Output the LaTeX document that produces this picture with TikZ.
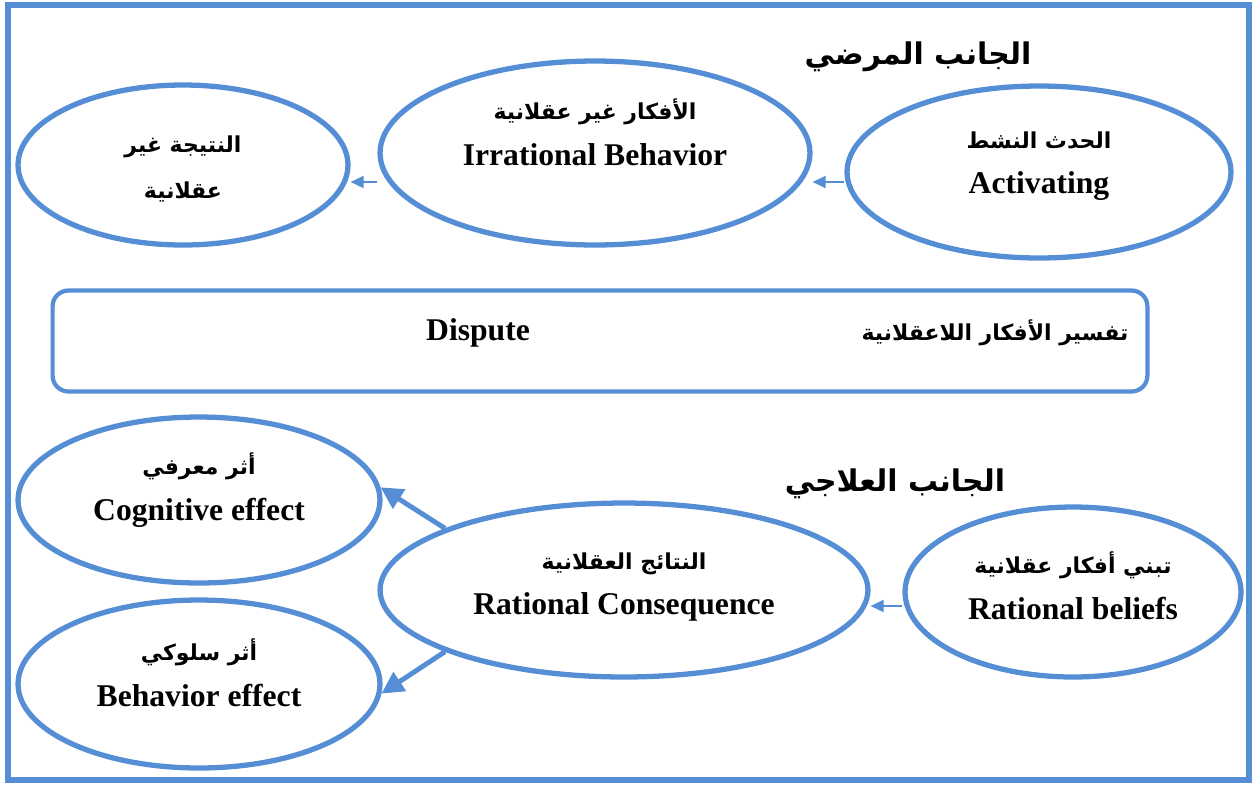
\documentclass[tikz,border=0pt]{standalone}
\usepackage{fontspec}
\setmainfont{Liberation Serif}
\newfontfamily\arabicfont[Script=Arabic]{DejaVu Sans}
\TeXXeTstate=1
\usetikzlibrary{arrows.meta,shapes.geometric,positioning,calc}
\definecolor{frameblue}{RGB}{85,142,213}
\newcommand{\artext}[1]{{\arabicfont\bfseries\fontsize{12.5}{26}\selectfont\beginR #1\endR}}
\newcommand{\arhead}[1]{{\arabicfont\bfseries\fontsize{17}{24}\selectfont\beginR #1\endR}}

\begin{document}
\begin{tikzpicture}[
  x=0.02cm, y=-0.02cm,
  bubble/.style={ellipse, draw=frameblue, line width=3pt, inner sep=0pt},
  txt/.style={align=center, font=\fontsize{18}{26}\selectfont\bfseries, inner sep=0pt},
  thinarrow/.style={-{Triangle[length=2.6mm,width=2.4mm]}, draw=frameblue, line width=1pt},
  thickarrow/.style={-{Triangle[length=4.4mm,width=4.4mm]}, draw=frameblue, line width=2.8pt}
]
\useasboundingbox (0,0) rectangle (1253,785);
\draw[frameblue, line width=3.4pt] (8,5) rectangle (1249,780);

% patient side
\node[txt] (pathohead) at (918,57) {\arhead{الجانب المرضي}};
\node[bubble, minimum width=6.6cm, minimum height=3.2cm] (result) at (183,165) {};
\node[bubble, minimum width=8.6cm, minimum height=3.68cm] (irrat) at (595,153) {};
\node[bubble, minimum width=7.68cm, minimum height=3.44cm] (activ) at (1039,172) {};
\node[txt, yshift=-0.08cm] (result-t) at (result) {\artext{النتيجة غير}\\ \artext{عقلانية}};
\node[txt, yshift=0.42cm] (irrat-t) at (irrat) {\artext{الأفكار غير عقلانية}\\ Irrational Behavior};
\node[txt, yshift=0.12cm] (activ-t) at (activ) {\artext{الحدث النشط}\\ Activating};
\draw[thinarrow] ([yshift=-0.2cm]activ.west) -- ([yshift=-0.2cm]activ.west -| irrat.east);
\draw[thinarrow] ([yshift=-0.58cm]irrat.west) -- ([yshift=-0.58cm]irrat.west -| result.east);

% dispute
\node[draw=frameblue, line width=2.4pt, rounded corners=9pt, minimum width=21.9cm, minimum height=2.02cm] (disp) at (600,341) {};
\node[txt] (disp-en) at (478,333) {Dispute};
\node[txt] (disp-ar) at (995,333) {\artext{تفسير الأفكار اللاعقلانية}};

% therapeutic side
\node[txt] (therahead) at (895,484) {\arhead{الجانب العلاجي}};
\node[bubble, minimum width=7.24cm, minimum height=3.32cm] (cogn) at (199,500) {};
\node[bubble, minimum width=7.24cm, minimum height=3.36cm] (behav) at (199,684) {};
\node[bubble, minimum width=9.76cm, minimum height=3.48cm] (ratcon) at (624,590) {};
\node[bubble, minimum width=6.72cm, minimum height=3.4cm] (ratbel) at (1073,592) {};
\node[txt, yshift=0.2cm] (cogn-t) at (cogn) {\artext{أثر معرفي}\\ Cognitive effect};
\node[txt, yshift=0.22cm] (behav-t) at (behav) {\artext{أثر سلوكي}\\ Behavior effect};
\node[txt, yshift=0.06cm] (ratcon-t) at (ratcon) {\artext{النتائج العقلانية}\\ Rational Consequence};
\node[txt, yshift=0.12cm] (ratbel-t) at (ratbel) {\artext{تبني أفكار عقلانية}\\ Rational beliefs};
\draw[thinarrow] ([yshift=-0.28cm]ratbel.west) -- ([yshift=-0.28cm]ratbel.west -| ratcon.east);
\draw[thickarrow] (ratcon.161) -- (cogn.4);
\draw[thickarrow] (ratcon.199) -- (behav.-3);
\end{tikzpicture}
\end{document}
